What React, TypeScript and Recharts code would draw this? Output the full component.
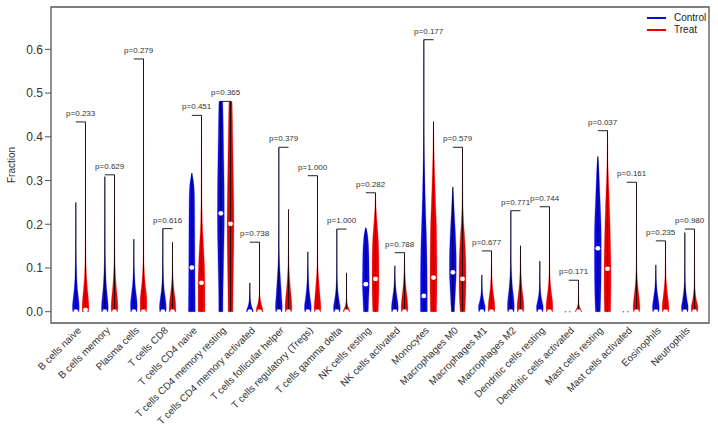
import React from "react";
import {
  ComposedChart,
  Scatter,
  XAxis,
  YAxis,
  ReferenceLine,
  ReferenceArea,
  Legend,
} from "recharts";

const cellTypes = [
  "B cells naive",
  "B cells memory",
  "Plasma cells",
  "T cells CD8",
  "T cells CD4 naive",
  "T cells CD4 memory resting",
  "T cells CD4 memory activated",
  "T cells follicular helper",
  "T cells regulatory (Tregs)",
  "T cells gamma delta",
  "NK cells resting",
  "NK cells activated",
  "Monocytes",
  "Macrophages M0",
  "Macrophages M1",
  "Macrophages M2",
  "Dendritic cells resting",
  "Dendritic cells activated",
  "Mast cells resting",
  "Mast cells activated",
  "Eosinophils",
  "Neutrophils",
];

const pValues = [
  "0.233", "0.629", "0.279", "0.616", "0.451", "0.365", "0.738", "0.379",
  "1.000", "1.000", "0.282", "0.788", "0.177", "0.579", "0.677", "0.771",
  "0.744", "0.171", "0.037", "0.161", "0.235", "0.980",
];

const seriesNames = ["Control", "Treat"];
const seriesColors = ["#0808e8", "#e80000"];

// violin outlines: [fraction, relative half width], last entry is the maximum
const controlShape: number[][][] = [
  [[0, 0.9], [0.01, 1], [0.03, 0.8], [0.05, 0.5], [0.08, 0.25], [0.12, 0.1], [0.17, 0.04], [0.25, 0]],
  [[0, 0.9], [0.01, 1], [0.03, 0.8], [0.05, 0.55], [0.08, 0.3], [0.12, 0.12], [0.18, 0.05], [0.309, 0]],
  [[0, 0.9], [0.015, 1], [0.04, 0.7], [0.06, 0.4], [0.09, 0.15], [0.12, 0.05], [0.166, 0]],
  [[0, 0.9], [0.01, 1], [0.03, 0.75], [0.05, 0.4], [0.08, 0.15], [0.12, 0.05], [0.19, 0]],
  [[0, 1], [0.05, 0.95], [0.1, 0.9], [0.15, 0.88], [0.2, 0.85], [0.25, 0.8], [0.28, 0.7], [0.3, 0.45], [0.317, 0]],
  [[0, 0.6], [0.05, 0.65], [0.1, 0.78], [0.15, 0.9], [0.2, 1], [0.25, 1], [0.3, 0.95], [0.35, 0.85], [0.4, 0.75], [0.45, 0.65], [0.481, 0.55]],
  [[0, 1], [0.005, 0.9], [0.015, 0.45], [0.03, 0.12], [0.066, 0]],
  [[0, 0.9], [0.01, 1], [0.03, 0.85], [0.06, 0.6], [0.09, 0.35], [0.12, 0.15], [0.16, 0.05], [0.376, 0]],
  [[0, 0.9], [0.01, 1], [0.03, 0.7], [0.05, 0.4], [0.08, 0.15], [0.137, 0]],
  [[0, 0.9], [0.01, 1], [0.025, 0.7], [0.045, 0.35], [0.07, 0.12], [0.1, 0.04], [0.189, 0]],
  [[0, 0.7], [0.03, 0.85], [0.06, 1], [0.1, 0.95], [0.14, 0.85], [0.17, 0.6], [0.185, 0.3], [0.192, 0]],
  [[0, 0.9], [0.01, 1], [0.03, 0.7], [0.05, 0.35], [0.075, 0.1], [0.105, 0]],
  [[0, 1], [0.05, 1], [0.1, 0.95], [0.15, 0.85], [0.2, 0.65], [0.25, 0.45], [0.3, 0.3], [0.35, 0.15], [0.4, 0.07], [0.5, 0.03], [0.622, 0]],
  [[0, 0.45], [0.03, 0.65], [0.06, 0.85], [0.09, 1], [0.12, 1], [0.15, 0.9], [0.18, 0.75], [0.21, 0.55], [0.24, 0.35], [0.27, 0.15], [0.285, 0]],
  [[0, 0.9], [0.01, 1], [0.025, 0.6], [0.04, 0.25], [0.06, 0.07], [0.084, 0]],
  [[0, 0.9], [0.01, 1], [0.03, 0.85], [0.05, 0.55], [0.08, 0.25], [0.11, 0.08], [0.231, 0]],
  [[0, 0.9], [0.01, 1], [0.025, 0.65], [0.04, 0.3], [0.06, 0.1], [0.116, 0]],
  [],
  [[0, 0.7], [0.03, 0.85], [0.07, 0.95], [0.12, 1], [0.17, 1], [0.22, 0.85], [0.27, 0.6], [0.31, 0.4], [0.34, 0.2], [0.355, 0]],
  [],
  [[0, 0.9], [0.01, 1], [0.03, 0.7], [0.05, 0.35], [0.075, 0.1], [0.107, 0]],
  [[0, 0.9], [0.01, 1], [0.025, 0.7], [0.045, 0.35], [0.07, 0.1], [0.181, 0]],
];

const treatShape: number[][][] = [
  [[0, 0.9], [0.01, 1], [0.03, 0.85], [0.05, 0.6], [0.08, 0.3], [0.12, 0.12], [0.17, 0.05], [0.434, 0]],
  [[0, 0.9], [0.01, 1], [0.03, 0.85], [0.05, 0.6], [0.08, 0.3], [0.12, 0.12], [0.18, 0.05], [0.313, 0]],
  [[0, 0.9], [0.02, 1], [0.04, 0.85], [0.06, 0.55], [0.09, 0.25], [0.13, 0.08], [0.2, 0.03], [0.578, 0]],
  [[0, 1], [0.02, 0.9], [0.04, 0.6], [0.06, 0.3], [0.09, 0.1], [0.159, 0]],
  [[0, 1], [0.05, 1], [0.1, 0.9], [0.15, 0.6], [0.2, 0.25], [0.3, 0.08], [0.449, 0]],
  [[0, 0.7], [0.05, 0.75], [0.1, 0.85], [0.15, 0.95], [0.2, 1], [0.25, 0.95], [0.3, 0.85], [0.35, 0.75], [0.4, 0.65], [0.45, 0.55], [0.481, 0.45]],
  [[0, 1], [0.008, 0.9], [0.02, 0.45], [0.035, 0.15], [0.06, 0.04], [0.159, 0]],
  [[0, 0.9], [0.01, 1], [0.03, 0.85], [0.05, 0.6], [0.08, 0.3], [0.11, 0.12], [0.15, 0.04], [0.234, 0]],
  [[0, 0.9], [0.01, 1], [0.03, 0.8], [0.06, 0.5], [0.09, 0.2], [0.13, 0.06], [0.311, 0]],
  [[0, 1], [0.005, 0.8], [0.015, 0.3], [0.03, 0.08], [0.089, 0]],
  [[0, 0.8], [0.05, 1], [0.1, 1], [0.15, 0.9], [0.18, 0.7], [0.21, 0.4], [0.24, 0.15], [0.272, 0]],
  [[0, 0.9], [0.01, 1], [0.03, 0.8], [0.05, 0.5], [0.08, 0.2], [0.135, 0]],
  [[0, 0.9], [0.05, 1], [0.1, 1], [0.15, 0.95], [0.2, 0.85], [0.25, 0.6], [0.3, 0.4], [0.35, 0.2], [0.4, 0.08], [0.435, 0]],
  [[0, 0.7], [0.03, 0.9], [0.06, 1], [0.1, 1], [0.14, 0.85], [0.18, 0.55], [0.21, 0.3], [0.25, 0.12], [0.3, 0.05], [0.376, 0]],
  [[0, 0.9], [0.01, 1], [0.03, 0.75], [0.05, 0.4], [0.08, 0.15], [0.139, 0]],
  [[0, 0.9], [0.01, 1], [0.03, 0.8], [0.05, 0.5], [0.08, 0.2], [0.151, 0]],
  [[0, 0.9], [0.01, 1], [0.03, 0.8], [0.05, 0.45], [0.08, 0.15], [0.12, 0.05], [0.24, 0]],
  [[0, 1], [0.005, 0.7], [0.012, 0.3], [0.025, 0.08], [0.072, 0]],
  [[0, 0.9], [0.05, 1], [0.1, 1], [0.15, 0.9], [0.2, 0.75], [0.25, 0.55], [0.3, 0.3], [0.35, 0.1], [0.414, 0]],
  [[0, 0.9], [0.01, 1], [0.03, 0.8], [0.05, 0.5], [0.08, 0.2], [0.12, 0.06], [0.296, 0]],
  [[0, 0.9], [0.01, 1], [0.03, 0.75], [0.05, 0.45], [0.08, 0.15], [0.162, 0]],
  [[0, 0.9], [0.01, 1], [0.025, 0.6], [0.04, 0.3], [0.065, 0.1], [0.189, 0]],
];

const controlMedian = [0, 0, 0, 0, 0.101, 0.225, 0, 0, 0, 0, 0.063, 0, 0.036, 0.09, 0, 0, 0, 0, 0.145, 0, 0, 0];
const treatMedian = [0.004, 0, 0, 0, 0.066, 0.201, 0, 0, 0, 0, 0.075, 0, 0.078, 0.075, 0, 0, 0, 0, 0.098, 0, 0, 0];

const yTicks = [0, 0.1, 0.2, 0.3, 0.4, 0.5, 0.6];

const X_DOMAIN: [number, number] = [-1.57, 66.5];
const Y_DOMAIN: [number, number] = [-0.0258, 0.6968];
const HALF_WIDTH = 0.35;

const controlPos = (i: number) => 3 * i + 1;
const treatPos = (i: number) => 3 * i + 2;
const topOf = (profile: number[][]) => (profile.length ? profile[profile.length - 1][0] : 0);

function outline(center: number, profile: number[][]) {
  const right = profile.map(([y, w]) => ({ x: center + w * HALF_WIDTH, y }));
  const left = profile
    .slice()
    .reverse()
    .map(([y, w]) => ({ x: center - w * HALF_WIDTH, y }));
  return [...right, ...left];
}

const violins = cellTypes
  .flatMap((_, i) => [
    { key: `c${i}`, color: seriesColors[0], data: outline(controlPos(i), controlShape[i]) },
    { key: `t${i}`, color: seriesColors[1], data: outline(treatPos(i), treatShape[i]) },
  ])
  .filter((v) => v.data.length > 0);

const medianPoints = cellTypes.flatMap((_, i) => {
  const pts = [];
  if (controlShape[i].length) pts.push({ x: controlPos(i), y: controlMedian[i] });
  if (treatShape[i].length) pts.push({ x: treatPos(i), y: treatMedian[i] });
  return pts;
});

// groups where every control sample is zero
const zeroPoints = cellTypes.flatMap((_, i) =>
  controlShape[i].length ? [] : [{ x: controlPos(i) - 0.35, y: 0 }, { x: controlPos(i) + 0.1, y: 0 }]
);

const groupTicks = cellTypes.map((_, i) => 3 * i + 1.5);

// monotone cubic through points, x treated as a function of y
function monotoneSegments(p: { x: number; y: number }[]) {
  const n = p.length;
  const m: number[] = [];
  for (let k = 0; k < n - 1; k++) {
    const h = p[k + 1].y - p[k].y;
    m.push(h === 0 ? 0 : (p[k + 1].x - p[k].x) / h);
  }
  const t: number[] = new Array(n).fill(0);
  t[0] = m[0];
  t[n - 1] = m[n - 2];
  for (let k = 1; k < n - 1; k++) {
    if (m[k - 1] * m[k] <= 0) t[k] = 0;
    else {
      const avg = (m[k - 1] + m[k]) / 2;
      const lim = 3 * Math.min(Math.abs(m[k - 1]), Math.abs(m[k]));
      t[k] = Math.abs(avg) > lim ? Math.sign(avg) * lim : avg;
    }
  }
  let s = "";
  for (let k = 0; k < n - 1; k++) {
    const h = p[k + 1].y - p[k].y;
    const c1x = p[k].x + (t[k] * h) / 3;
    const c1y = p[k].y + h / 3;
    const c2x = p[k + 1].x - (t[k + 1] * h) / 3;
    const c2y = p[k + 1].y - h / 3;
    s += `C${c1x},${c1y} ${c2x},${c2y} ${p[k + 1].x},${p[k + 1].y}`;
  }
  return s;
}

function ViolinBody(props: any) {
  const pts = props.points as { x: number; y: number }[];
  if (!pts || pts.length < 4) return null;
  const n = pts.length / 2;
  const right = pts.slice(0, n);
  const left = pts.slice(n);
  const d = `M${right[0].x},${right[0].y}${monotoneSegments(right)}L${left[0].x},${left[0].y}${monotoneSegments(left)}Z`;
  const cx = (right[0].x + left[n - 1].x) / 2;
  return (
    <g>
      <path d={d} fill={props.color} stroke={props.color} strokeWidth={0.3} />
      <line x1={cx} y1={right[0].y} x2={cx} y2={right[n - 1].y} stroke="#000" strokeWidth={1} strokeOpacity={0.85} />
    </g>
  );
}

const NoMark = () => null;

const MedianDot = (p: any) => <circle cx={p.cx} cy={p.cy} r={2.4} fill="#fff" />;
const ZeroDot = (p: any) => <circle cx={p.cx} cy={p.cy} r={0.8} fill="#666" />;

function CellTick({ x, y, payload }: any) {
  const idx = Math.round((payload.value - 1.5) / 3);
  const ax = x + 1;
  const ay = y + 8;
  return (
    <text x={ax} y={ay} transform={`rotate(-45 ${ax} ${ay})`} textAnchor="end" fontSize={10} fill="#333">
      {cellTypes[idx]}
    </text>
  );
}

function AxisTitle({ viewBox }: any) {
  const cx = (viewBox?.x ?? 0) + 11;
  const cy = (viewBox?.y ?? 7) + (viewBox?.height ?? 316) / 2;
  return (
    <text x={cx} y={cy} transform={`rotate(-90 ${cx} ${cy})`} textAnchor="middle" dominantBaseline="central" fontSize={10} fill="#333">
      Fraction
    </text>
  );
}

function LegendBox() {
  return (
    <div style={{ fontSize: 10, lineHeight: "12px", color: "#222" }}>
      {seriesNames.map((name, i) => (
        <div key={name} style={{ display: "flex", alignItems: "center" }}>
          <span style={{ display: "inline-block", width: 19, height: 2, background: seriesColors[i], marginRight: 8 }} />
          {name}
        </div>
      ))}
    </div>
  );
}

export default function App() {
  return (
    <div
      style={{
        position: "absolute",
        left: 0,
        top: 0,
        width: 718,
        height: 429,
        background: "#fff",
        fontFamily: "'Liberation Sans', Arial, sans-serif",
      }}
    >
      <ComposedChart width={718} height={429} margin={{ top: 7, right: 9, bottom: 0, left: 0 }}>
        <XAxis
          type="number"
          dataKey="x"
          domain={X_DOMAIN}
          allowDataOverflow
          ticks={groupTicks}
          interval={0}
          tick={<CellTick />}
          tickLine={false}
          tickSize={0}
          tickMargin={0}
          axisLine={false}
          height={106}
        />
        <YAxis
          type="number"
          dataKey="y"
          domain={Y_DOMAIN}
          allowDataOverflow
          ticks={yTicks}
          interval={0}
          tickFormatter={(v: number) => v.toFixed(1)}
          tick={{ fontSize: 12, fill: "#333" }}
          tickLine={{ stroke: "#555" }}
          tickSize={6}
          tickMargin={2}
          axisLine={false}
          width={51}
          label={<AxisTitle />}
        />
        <ReferenceArea
          x1={X_DOMAIN[0]}
          x2={X_DOMAIN[1]}
          y1={Y_DOMAIN[0]}
          y2={Y_DOMAIN[1]}
          fill="none"
          stroke="#555"
          strokeWidth={1.3}
          ifOverflow="visible"
        />
        {violins.map((v) => (
          <Scatter
            key={v.key}
            data={v.data}
            fill={v.color}
            line={<ViolinBody color={v.color} />}
            lineType="joint"
            shape={NoMark}
            legendType="none"
            isAnimationActive={false}
          />
        ))}
        <Scatter data={medianPoints} shape={MedianDot} legendType="none" isAnimationActive={false} />
        <Scatter data={zeroPoints} shape={ZeroDot} legendType="none" isAnimationActive={false} />
        {cellTypes.map((_, i) => {
          const h = Math.max(topOf(controlShape[i]), topOf(treatShape[i]));
          return (
            <ReferenceLine
              key={`p${i}`}
              segment={[
                { x: controlPos(i), y: h },
                { x: treatPos(i), y: h },
              ]}
              stroke="#222"
              strokeWidth={1}
              label={{ value: `p=${pValues[i]}`, position: "top", offset: 6, fontSize: 8, fill: "#333" }}
            />
          );
        })}
        <Legend
          layout="vertical"
          align="center"
          verticalAlign="middle"
          wrapperStyle={{ left: 647, top: 12, width: 66 }}
          content={<LegendBox />}
        />
      </ComposedChart>
    </div>
  );
}
